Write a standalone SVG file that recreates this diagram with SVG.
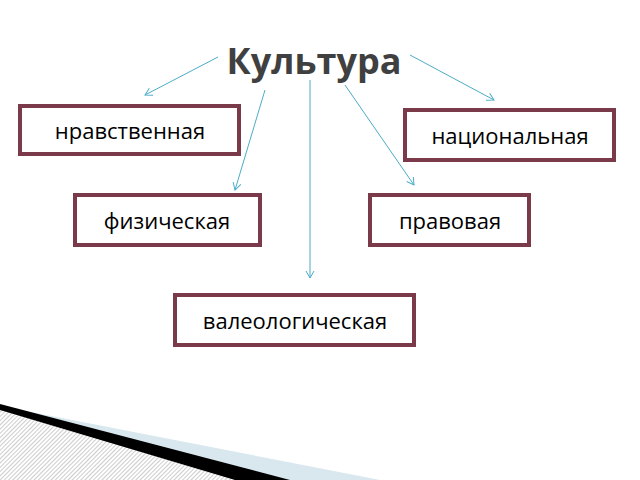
<svg xmlns="http://www.w3.org/2000/svg" width="640" height="480" viewBox="0 0 640 480">
<defs>
<marker id="ah" markerWidth="10" markerHeight="10" refX="8" refY="5" orient="auto" markerUnits="userSpaceOnUse"><path d="M1,1 L8,5 L1,9" fill="none" stroke="#4bacc6" stroke-width="1"/></marker>
<pattern id="hatch" width="3" height="3" patternUnits="userSpaceOnUse" patternTransform="rotate(45)"><rect width="3" height="3" fill="#fff"/><line x1="0" y1="0" x2="0" y2="3" stroke="#999" stroke-width="1"/></pattern>
</defs>
<style>
.box{fill:#fff;stroke:#7b3a4a;stroke-width:4}
.t{font-family:"Open Sans","DejaVu Sans",sans-serif;font-size:22px;fill:#000;text-anchor:middle}
.c{stroke:#4bacc6;stroke-width:1;fill:none;marker-end:url(#ah)}
</style>
<rect width="640" height="480" fill="#fff"/>
<polygon points="0,406 380,480 0,480" fill="#d8e8ee"/>
<polygon points="0,404 290,480 0,480" fill="#000"/>
<polygon points="0,410 235,480 0,480" fill="url(#hatch)"/>
<g id="title"><text x="314" y="74" font-family="Open Sans,DejaVu Sans,sans-serif" font-size="36" font-weight="bold" fill="#404040" text-anchor="middle">Культура</text></g>
<g id="connectors">
<line class="c" x1="218" y1="57" x2="145" y2="95"/>
<line class="c" x1="265" y1="90" x2="235" y2="190"/>
<line class="c" x1="310" y1="80" x2="310" y2="278"/>
<line class="c" x1="345" y1="85" x2="414" y2="185"/>
<line class="c" x1="410" y1="55" x2="494" y2="100"/>
</g>
<g id="n1"><rect class="box" x="20" y="106" width="219" height="48"/><text class="t" x="130" y="139">нравственная</text></g>
<g id="n2"><rect class="box" x="405" y="110" width="209" height="50"/><text class="t" x="510" y="144">национальная</text></g>
<g id="n3"><rect class="box" x="75" y="195" width="185" height="50"/><text class="t" x="167" y="229">физическая</text></g>
<g id="n4"><rect class="box" x="370" y="195" width="159" height="50"/><text class="t" x="450" y="229">правовая</text></g>
<g id="n5"><rect class="box" x="175" y="295" width="239" height="50"/><text class="t" x="295" y="329">валеологическая</text></g>
</svg>
